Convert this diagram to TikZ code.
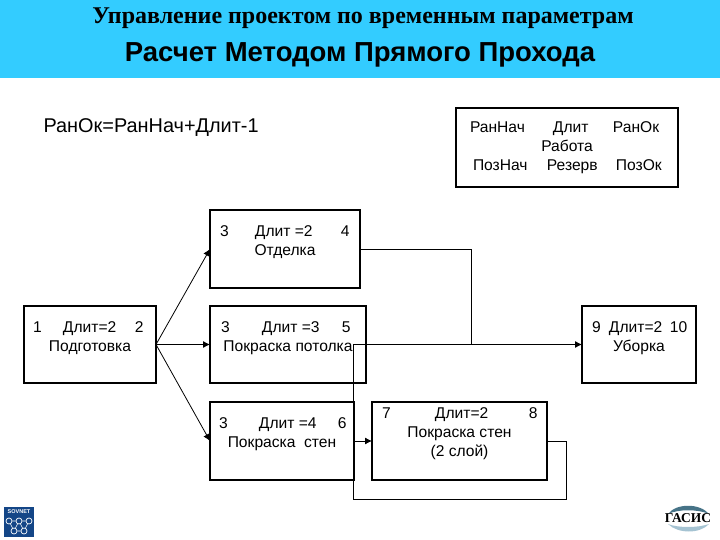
\documentclass[tikz,border=0pt]{standalone}
\usepackage{fontspec}
\usetikzlibrary{arrows.meta}
\setmainfont{Liberation Sans}
\newfontfamily\serifface{Liberation Serif}
\newcommand{\tasktext}[4][16]{\parbox[c][#3pt][t]{#2pt}{\centering\vspace*{#1pt}#4}}
\newcommand{\taskrow}[6]{\makebox[\linewidth][l]{\makebox[0pt][l]{\hspace*{#1pt}#2}\makebox[0pt][l]{\hspace*{#3pt}#4}\makebox[0pt][l]{\hspace*{#5pt}#6}}}
\tikzset{
  taskbox/.style={draw,line width=1.8pt,inner sep=0pt,outer sep=0pt,anchor=north west,font=\fontsize{15.6pt}{19pt}\selectfont},
  link/.style={line width=0.8pt},
  arrowlink/.style={link,-{Latex[length=7pt,width=7pt]}},
  sovdot/.style={draw=white,line width=0.7pt,circle,inner sep=0pt,minimum size=6pt}
}
\begin{document}
\begin{tikzpicture}[x=1pt,y=-1pt]
\useasboundingbox (0,0) rectangle (720,540);
\fill[fill={rgb,255:red,51;green,204;blue,255}] (0,0) rectangle (720,78);
\node (title) at (363,18) {\serifface\bfseries\fontsize{24pt}{26pt}\selectfont Управление проектом по временным параметрам};
\node (subtitle) at (360,55) {\bfseries\fontsize{27.5pt}{29pt}\selectfont Расчет Методом Прямого Прохода};
\node[anchor=west] (formula) at (40,128) {\fontsize{19.9pt}{21pt}\selectfont РанОк=РанНач+Длит-1};

\node[taskbox] (legend) at (456,108) {\tasktext[14]{222}{79}{\taskrow{14}{РанНач}{97}{Длит}{157}{РанОк}\\Работа\\\taskrow{17}{ПозНач}{91}{Резерв}{160}{ПозОк}}};

\node[taskbox] (prep) at (24,306) {\tasktext{132}{77}{\taskrow{9}{1}{39}{Длит=2}{111}{2}\\Подготовка}};
\node[taskbox] (finishing) at (210,210) {\tasktext{150}{78}{\taskrow{10}{3}{45}{Длит =2}{131}{4}\\Отделка}};
\node[taskbox] (ceiling) at (210,306) {\tasktext{156}{77}{\taskrow{11}{3}{52}{Длит =3}{132}{5}\\Покраска потолка}};
\node[taskbox] (walls) at (210,402) {\tasktext{144}{78}{\taskrow{9}{3}{49}{Длит =4}{128}{6}\\Покраска\ \ стен}};
\node[taskbox] (walls2) at (372,402) {\tasktext[6]{175}{78}{\taskrow{10}{7}{63}{Длит=2}{157}{8}\\Покраска стен\\(2 слой)}};
\node[taskbox] (cleanup) at (582,306) {\tasktext{114}{77}{\taskrow{10}{9}{27}{Длит=2}{88}{10}\\Уборка}};

\coordinate (lane) at (353,0);
\coordinate (drop) at (471,0);
\coordinate (turn) at (lane |- cleanup.west);
\coordinate (joint) at (drop |- cleanup.west);
\coordinate (lowright) at (566,499);
\coordinate (lowleft) at (353,499);
\draw[arrowlink] (prep.east) -- (finishing.west);
\draw[arrowlink] (prep.east) -- (ceiling.west);
\draw[arrowlink] (prep.east) -- (walls.west);
\draw[arrowlink] (walls.east) -- (walls2.west);
\draw[link] (finishing.east) -| (joint);
\draw[arrowlink] (turn) -- (cleanup.west);
\draw[link] (walls2.east) -| (lowright) -- (lowleft) -- (turn);

\node[fill={rgb,255:red,20;green,70;blue,135},minimum size=30pt,inner sep=0pt] (sovnet) at (19,522) {};
\node[text=white,inner sep=0pt] (sovnetname) at (19,512) {\bfseries\fontsize{5.5pt}{6pt}\selectfont SOVNET};
\foreach \n/\px/\py in {a/9/521,b/19/521,c/29/521,d/14/531,e/24/531}
  \node[sovdot] (dot\n) at (\px,\py) {};
\draw[white,line width=0.6pt] (dota) -- (dotb) -- (dotc) (dota) -- (dotd) -- (dote) -- (dotc) (dotb) -- (dotd) (dotb) -- (dote);

\fill[fill={rgb,255:red,70;green,115;blue,135}] (668,514) .. controls (676,503) and (700,503) .. (709,514) .. controls (698,509) and (678,509) .. (668,514);
\fill[fill={rgb,255:red,165;green,195;blue,210}] (668,524) .. controls (678,534) and (700,534) .. (709,524) .. controls (698,528) and (678,528) .. (668,524);
\node[inner sep=0pt] (gasis) at (688,518) {\serifface\bfseries\fontsize{13.5pt}{14pt}\selectfont ГАСИС};
\end{tikzpicture}
\end{document}
